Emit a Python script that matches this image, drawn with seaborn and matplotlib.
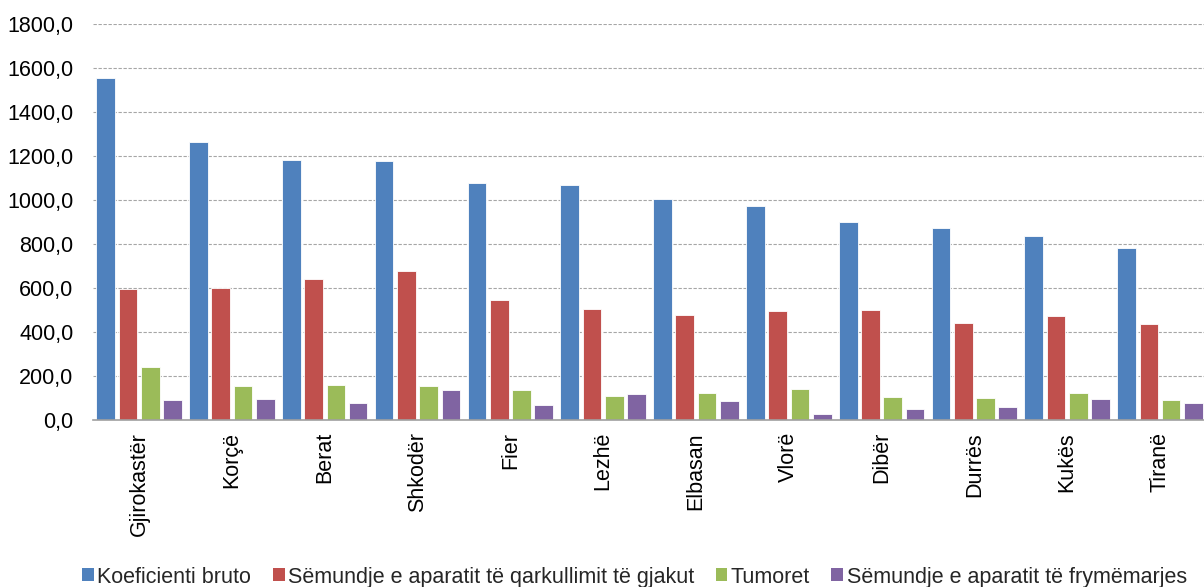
import matplotlib
matplotlib.use("Agg")
import matplotlib.pyplot as plt
import seaborn as sns
import pandas as pd
from matplotlib.ticker import FuncFormatter, MultipleLocator
from matplotlib.patches import Patch

categories = ["Gjirokastër", "Korçë", "Berat", "Shkodër", "Fier", "Lezhë",
              "Elbasan", "Vlorë", "Dibër", "Durrës", "Kukës", "Tiranë"]
series_names = ["Koeficienti bruto",
                "Sëmundje e aparatit të qarkullimit të gjakut",
                "Tumoret",
                "Sëmundje e aparatit të frymëmarjes"]
koeficienti = [1556, 1264, 1184, 1177, 1076, 1069, 1005, 975, 899, 873, 835, 782]
qarkullimi = [598, 600, 642, 678, 546, 505, 478, 495, 501, 442, 476, 438]
tumoret = [243, 158, 161, 156, 136, 110, 125, 140, 108, 99, 124, 94]
frymemarja = [94, 98, 80, 139, 70, 119, 89, 29, 51, 60, 97, 80]
colors = ["#4F81BD", "#C0504D", "#9BBB59", "#8064A2"]

rows = []
for name, vals in zip(series_names, [koeficienti, qarkullimi, tumoret, frymemarja]):
    for c, v in zip(categories, vals):
        rows.append({"Qarku": c, "Seria": name, "Vlera": v})
df = pd.DataFrame(rows)

sns.set_theme(style="white")
plt.rcParams["font.family"] = ["Liberation Sans", "DejaVu Sans"]

fig = plt.figure(figsize=(12.04, 5.87), dpi=100)
ax = fig.add_axes([0.077, 0.284, 0.925, 0.675])

sns.barplot(data=df, x="Qarku", y="Vlera", hue="Seria", order=categories,
            hue_order=series_names, palette=colors, width=0.96, gap=0.16,
            saturation=1, edgecolor="white", linewidth=0.6, ax=ax,
            legend=False, errorbar=None)

ax.set_ylim(0, 1800)
ax.set_xlim(-0.5, 11.5)
ax.yaxis.set_major_locator(MultipleLocator(200))
ax.yaxis.set_major_formatter(FuncFormatter(lambda v, p: f"{v:.1f}".replace(".", ",")))
ax.grid(axis="y", color="#A6A6A6", linestyle=(0, (3, 1.5)), linewidth=0.8)
ax.set_axisbelow(True)
for s in ["top", "right", "left"]:
    ax.spines[s].set_visible(False)
ax.spines["bottom"].set_color("#A0A0A0")
ax.spines["bottom"].set_linewidth(1.2)
ax.set_xlabel("")
ax.set_ylabel("")
ax.tick_params(axis="x", length=0, pad=8.5, labelsize=15.5, labelcolor="black", rotation=90)
ax.tick_params(axis="y", length=0, pad=14, labelsize=15.5, labelcolor="black")

handles = [Patch(facecolor=c, edgecolor="none") for c in colors]
fig.legend(handles, series_names, loc="center", bbox_to_anchor=(0.527, 0.017),
           ncol=4, frameon=False, fontsize=15.5, handlelength=0.55, handleheight=0.55,
           handletextpad=0.15, columnspacing=1.0, borderaxespad=0)

fig.savefig("out.png", dpi=100)
